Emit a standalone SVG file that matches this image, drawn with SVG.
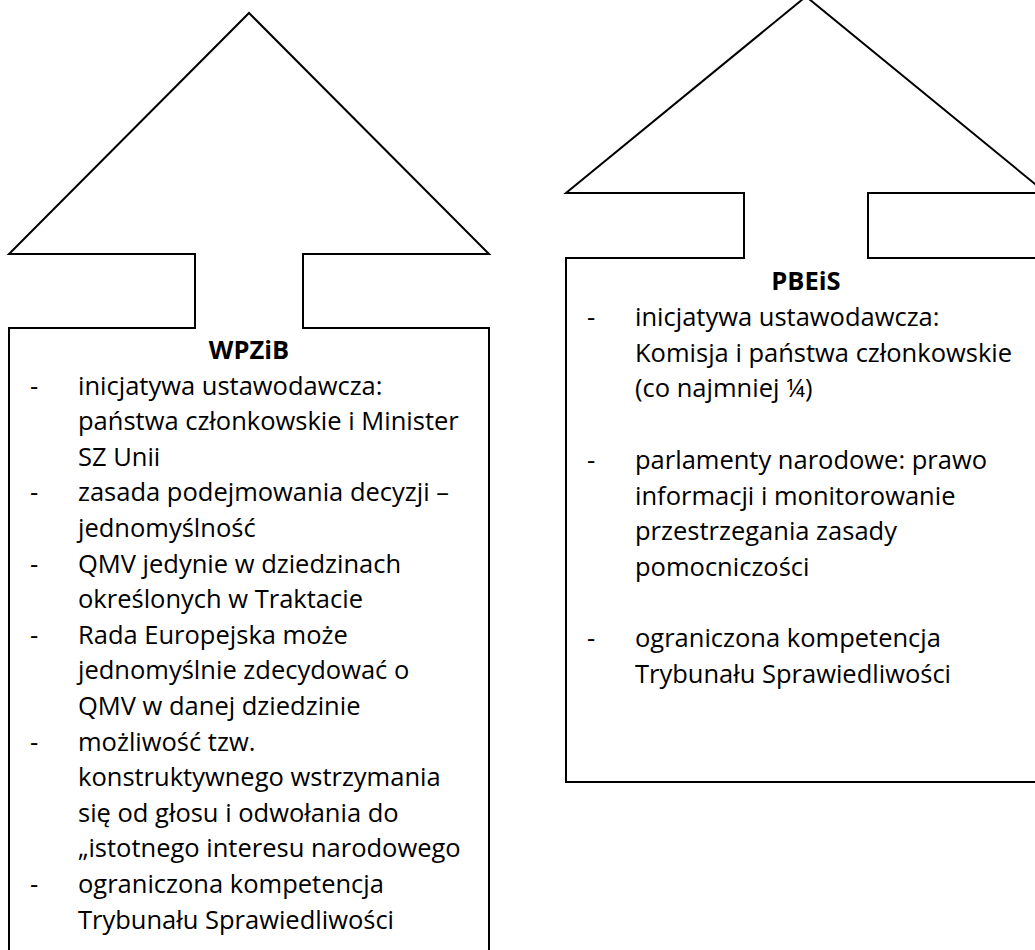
<svg xmlns="http://www.w3.org/2000/svg" width="1035" height="950" viewBox="0 0 1035 950">
<style>
.shape{fill:#ffffff;stroke:#000000;stroke-width:2;stroke-linejoin:miter}
.t{font-family:"Open Sans","Noto Sans","Liberation Sans",sans-serif;font-size:25.5px;fill:#000000}
.h{font-family:"Open Sans","Noto Sans","Liberation Sans",sans-serif;font-size:25.5px;font-weight:bold;fill:#000000;text-anchor:middle}
</style>
<rect x="0" y="0" width="1035" height="950" fill="#ffffff"/>
<g id="wpzib">
<path class="shape" d="M9,960 L9,328 L195,328 L195,254 L9,254 L249,13 L489,254 L303,254 L303,328 L489,328 L489,960 Z"/>
<text class="h" x="249" y="359">WPZiB</text>
<g class="t">
<text x="30" y="394.5">-</text>
<text x="78" y="394.5">inicjatywa ustawodawcza:</text>
<text x="78" y="430.1">państwa członkowskie i Minister</text>
<text x="78" y="465.7">SZ Unii</text>
<text x="30" y="501.3">-</text>
<text x="78" y="501.3">zasada podejmowania decyzji –</text>
<text x="78" y="536.9">jednomyślność</text>
<text x="30" y="572.5">-</text>
<text x="78" y="572.5">QMV jedynie w dziedzinach</text>
<text x="78" y="608.1">określonych w Traktacie</text>
<text x="30" y="643.7">-</text>
<text x="78" y="643.7">Rada Europejska może</text>
<text x="78" y="679.3">jednomyślnie zdecydować o</text>
<text x="78" y="714.9">QMV w danej dziedzinie</text>
<text x="30" y="750.5">-</text>
<text x="78" y="750.5">możliwość tzw.</text>
<text x="78" y="786.1">konstruktywnego wstrzymania</text>
<text x="78" y="821.7">się od głosu i odwołania do</text>
<text x="78" y="857.3">„istotnego interesu narodowego</text>
<text x="30" y="892.9">-</text>
<text x="78" y="892.9">ograniczona kompetencja</text>
<text x="78" y="928.5">Trybunału Sprawiedliwości</text>
</g>
</g>
<g id="pbeis">
<path class="shape" d="M566,782 L566,258 L744,258 L744,193 L566,193 L806,-3.5 L1046,193 L868,193 L868,258 L1046,258 L1046,782 Z"/>
<text class="h" x="806" y="290">PBEiS</text>
<g class="t">
<text x="587" y="326">-</text>
<text x="635" y="326">inicjatywa ustawodawcza:</text>
<text x="635" y="361.7">Komisja i państwa członkowskie</text>
<text x="635" y="397.4">(co najmniej ¼)</text>
<text x="587" y="468.8">-</text>
<text x="635" y="468.8">parlamenty narodowe: prawo</text>
<text x="635" y="504.5">informacji i monitorowanie</text>
<text x="635" y="540.2">przestrzegania zasady</text>
<text x="635" y="575.9">pomocniczości</text>
<text x="587" y="647.3">-</text>
<text x="635" y="647.3">ograniczona kompetencja</text>
<text x="635" y="683">Trybunału Sprawiedliwości</text>
</g>
</g>
</svg>
